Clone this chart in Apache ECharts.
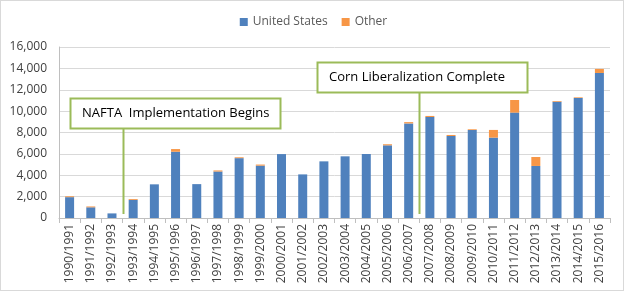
<!DOCTYPE html>
<html>
<head>
<meta charset="utf-8">
<script src="https://cdn.jsdelivr.net/npm/echarts@6/dist/echarts.min.js"></script>
<style>
    html, body { margin: 0; padding: 0; background: #fff; }
    #chart { width: 627px; height: 295px; }
    #frame { position: absolute; left: 0; top: 0; width: 624px; height: 291px; border: 1px solid #d9d9d9; box-sizing: border-box; pointer-events: none; }
</style>
</head>
<body>
<div id="chart"></div>
<div id="frame"></div>
<script>
const categories = [
    '1990/1991', '1991/1992', '1992/1993', '1993/1994', '1994/1995', '1995/1996',
    '1996/1997', '1997/1998', '1998/1999', '1999/2000', '2000/2001', '2001/2002',
    '2002/2003', '2003/2004', '2004/2005', '2005/2006', '2006/2007', '2007/2008',
    '2008/2009', '2009/2010', '2010/2011', '2011/2012', '2012/2013', '2013/2014',
    '2014/2015', '2015/2016'
]
const unitedStates = [
    1950, 1000, 430, 1700, 3150, 6200, 3170, 4350, 5600, 4900, 5980, 4080,
    5300, 5770, 5990, 6800, 8850, 9450, 7670, 8230, 7520, 9860, 4870, 10880,
    11230, 13570
]
const other = [
    80, 80, 0, 80, 0, 250, 0, 100, 80, 100, 0, 0,
    0, 0, 0, 100, 120, 100, 100, 70, 720, 1180, 840, 70,
    60, 380
]
const yTicks = [0, 2000, 4000, 6000, 8000, 10000, 12000, 14000, 16000]
const annotations = [
    { text: 'NAFTA  Implementation Begins', after: 2 },
    { text: 'Corn Liberalization Complete', after: 16 }
]

const chart = echarts.init(document.getElementById('chart'))
const font = '"Open Sans", "Noto Sans", sans-serif'

const option = {
    animation: false,
    textStyle: { fontFamily: font },
    legend: {
        data: ['United States', 'Other'],
        top: 11,
        left: 'center',
        itemWidth: 8,
        itemHeight: 8,
        itemGap: 14,
        icon: 'rect',
        textStyle: { color: '#595959', fontSize: 12, fontFamily: font }
    },
    grid: {
        left: 59,
        right: 17,
        top: 47,
        bottom: 77,
        containLabel: false
    },
    xAxis: {
        type: 'category',
        data: categories,
        axisLine: { lineStyle: { color: '#bfbfbf' } },
        axisTick: { show: true, alignWithLabel: false, length: 5, lineStyle: { color: '#bfbfbf' } },
        axisLabel: {
            rotate: 90,
            interval: 0,
            color: '#404040',
            fontSize: 12,
            margin: 6,
            fontFamily: font
        }
    },
    yAxis: {
        type: 'value',
        min: yTicks[0],
        max: yTicks[yTicks.length - 1],
        interval: 2000,
        axisLine: { show: true, lineStyle: { color: '#bfbfbf' } },
        axisTick: { show: false },
        splitLine: { lineStyle: { color: '#d9d9d9' } },
        axisLabel: {
            color: '#404040',
            fontSize: 12,
            margin: 12,
            fontFamily: font,
            formatter: function (v) { return v.toLocaleString('en-US') }
        }
    },
    series: [
        {
            name: 'United States',
            type: 'bar',
            stack: 'total',
            data: unitedStates,
            barWidth: 9,
            itemStyle: { color: '#4F81BD' }
        },
        {
            name: 'Other',
            type: 'bar',
            stack: 'total',
            data: other,
            barWidth: 9,
            itemStyle: { color: '#F79646' }
        }
    ]
}

chart.setOption(option)

// callout boxes placed at the boundary between two categories
const boxes = [
    { left: 70, top: 98, width: 210, height: 30 },
    { left: 317, top: 62, width: 210, height: 30 }
]
const graphics = []
annotations.forEach(function (a, i) {
    const x0 = chart.convertToPixel({ xAxisIndex: 0 }, a.after)
    const x1 = chart.convertToPixel({ xAxisIndex: 0 }, a.after + 1)
    const lx = Math.round((x0 + x1) / 2) + 0.5
    const y0 = chart.convertToPixel({ yAxisIndex: 0 }, 0)
    const b = boxes[i]
    graphics.push({
        type: 'line',
        shape: { x1: lx, y1: b.top + b.height, x2: lx, y2: y0 - 4 },
        style: { stroke: '#9BBB59', lineWidth: 2 },
        z: 10
    })
    graphics.push({
        type: 'rect',
        shape: { x: b.left + 0.5, y: b.top + 0.5, width: b.width, height: b.height },
        style: { fill: '#fff', stroke: '#9BBB59', lineWidth: 2 },
        z: 11
    })
    graphics.push({
        type: 'text',
        x: b.left + 12,
        y: b.top + b.height / 2,
        style: {
            text: a.text,
            fill: '#000',
            font: '13px ' + font,
            verticalAlign: 'middle'
        },
        z: 12
    })
})
chart.setOption({ graphic: graphics })
</script>
</body>
</html>
